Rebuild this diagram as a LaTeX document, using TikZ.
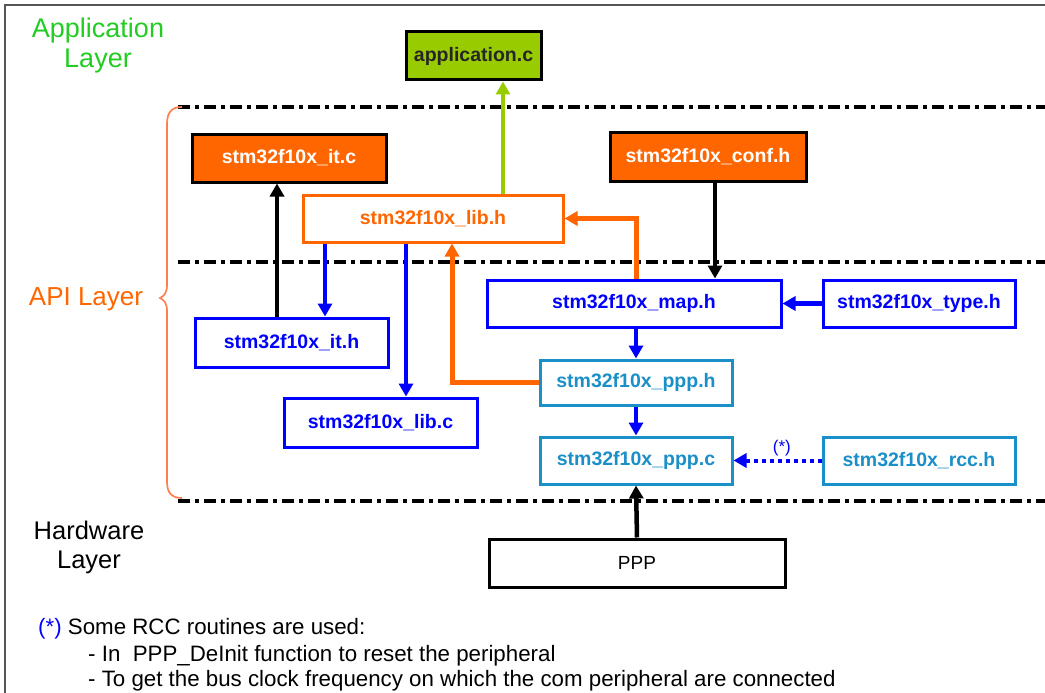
\documentclass[tikz,border=0pt]{standalone}
\usepackage{fontspec}
\setmainfont{Liberation Sans}
\usetikzlibrary{arrows.meta}
\definecolor{appgreen}{HTML}{99CC00}
\definecolor{txtgreen}{HTML}{22CC22}
\definecolor{orng}{HTML}{FF6600}
\definecolor{bluec}{HTML}{0000FF}
\definecolor{ltblue}{HTML}{1A8FC8}
\definecolor{bracec}{HTML}{FF7F50}
\definecolor{framec}{HTML}{555555}
\begin{document}
\begin{tikzpicture}[x=1pt,y=-1pt,
  box/.style={draw, rectangle, line width=3pt, inner sep=0pt, font=\fontsize{19.5}{22}\selectfont\bfseries},
  appbox/.style={box, fill=appgreen, draw=black, text=black!85},
  ocbox/.style={box, fill=orng, draw=black, text=white},
  olbox/.style={box, fill=white, draw=orng, text=orng},
  bbox/.style={box, fill=white, draw=bluec, text=bluec},
  lbbox/.style={box, fill=white, draw=ltblue, text=ltblue},
  hwbox/.style={box, fill=white, draw=black, text=black, font=\fontsize{19}{22}\selectfont},
  layerline/.style={line width=4pt, dash pattern=on 12pt off 5pt on 4pt off 5pt},
  tip/.style={-{Triangle[length=13pt,width=14pt]}},
  arr/.style={tip, line width=4.5pt},
  lbl/.style={inner sep=0pt, align=center},
  foot/.style={anchor=base west, inner sep=0pt, font=\fontsize{22.3}{25}\selectfont},
]
\useasboundingbox (0,0) rectangle (1045,693);
% frame
\draw[line width=2pt, framec] (5,693) -- (5,5) -- (1045,5);

% layer separators
\draw[layerline] (178,107) -- (1045,107);
\draw[layerline] (178,262) -- (1045,262);
\draw[layerline] (178,501) -- (1045,501);

% brace
\draw[bracec, line width=1.7pt] (182,107) .. controls (172,107) and (167,112) .. (167,124)
  -- (167,285) .. controls (167,293) and (164,296) .. (160,298)
  .. controls (164,300) and (167,303) .. (167,311)
  -- (167,482) .. controls (167,493) and (172,498) .. (182,498);

% layer labels
\node[lbl, text=txtgreen, font=\fontsize{27}{30}\selectfont] (applayer) at (98,46) {Application\\Layer};
\node[lbl, text=orng, font=\fontsize{26}{30}\selectfont] (apilayer) at (86,299) {API Layer};
\node[lbl, text=black, font=\fontsize{25.5}{29}\selectfont] (hwlayer) at (89,547) {Hardware\\Layer};

% boxes
\node[appbox, minimum width=135pt, minimum height=48pt] (app) at (473.5,56) {application.c};
\node[ocbox, minimum width=194pt, minimum height=48pt] (itc) at (289,158) {stm32f10x\_it.c};
\node[ocbox, minimum width=196pt, minimum height=49pt] (conf) at (708,156.5) {stm32f10x\_conf.h};
\node[olbox, minimum width=260pt, minimum height=47pt] (libh) at (433,218.5) {stm32f10x\_lib.h};
\node[bbox, minimum width=294pt, minimum height=47pt] (map) at (634,303.5) {stm32f10x\_map.h};
\node[bbox, minimum width=192pt, minimum height=47pt] (type) at (919,303.5) {stm32f10x\_type.h};
\node[bbox, minimum width=193pt, minimum height=49pt] (ith) at (291.5,342.5) {stm32f10x\_it.h};
\node[lbbox, minimum width=192pt, minimum height=45pt] (ppph) at (636,382.5) {stm32f10x\_ppp.h};
\node[bbox, minimum width=193pt, minimum height=49pt] (libc) at (380.5,422.5) {stm32f10x\_lib.c};
\node[lbbox, minimum width=192pt, minimum height=47pt] (pppc) at (636,460.5) {stm32f10x\_ppp.c};
\node[lbbox, minimum width=192pt, minimum height=47pt] (rcc) at (919,460.5) {stm32f10x\_rcc.h};
\node[hwbox, minimum width=296pt, minimum height=48pt] (ppp) at (637,563) {PPP};

% connectors
\draw[arr, appgreen, line width=4pt] (503,0 |- libh.north) -- (503,0 |- app.south);
\draw[arr, black] (277,0 |- ith.north) -- (277,0 |- itc.south);
\draw[arr, bluec] (325,0 |- libh.south) -- (325,0 |- ith.north);
\draw[arr, bluec] (406,0 |- libh.south) -- (406,0 |- libc.north);
\draw[tip, orng, line width=5pt] (ppph.west) -- (452,0 |- ppph.west) -- (452,0 |- libh.south);
\draw[tip, orng, line width=5pt] (636,0 |- map.north) |- (libh.east);
\draw[arr, black] (715,0 |- conf.south) -- (715,0 |- map.north);
\draw[arr, bluec] (type.west) -- (map.east);
\draw[arr, bluec] (636,0 |- map.south) -- (ppph.north);
\draw[arr, bluec] (ppph.south) -- (pppc.north);
\draw[arr, bluec, line width=4pt, dash pattern=on 4pt off 4pt] (rcc.west) -- node[pos=0.45, above=2pt, inner sep=0pt, font=\fontsize{17}{19}\selectfont, text=bluec] (star) {(*)} (pppc.east);
\draw[arr, black] (ppp.north) -- (pppc.south);

% footnote
\node[foot] (fn1) at (38,634) {\textcolor{bluec}{(*)} Some RCC routines are used:};
\node[foot] (fn2) at (88,661) {- In\ \ PPP\_DeInit function to reset the peripheral};
\node[foot] (fn3) at (88,686) {- To get the bus clock frequency on which the com peripheral are connected};
\end{tikzpicture}
\end{document}
